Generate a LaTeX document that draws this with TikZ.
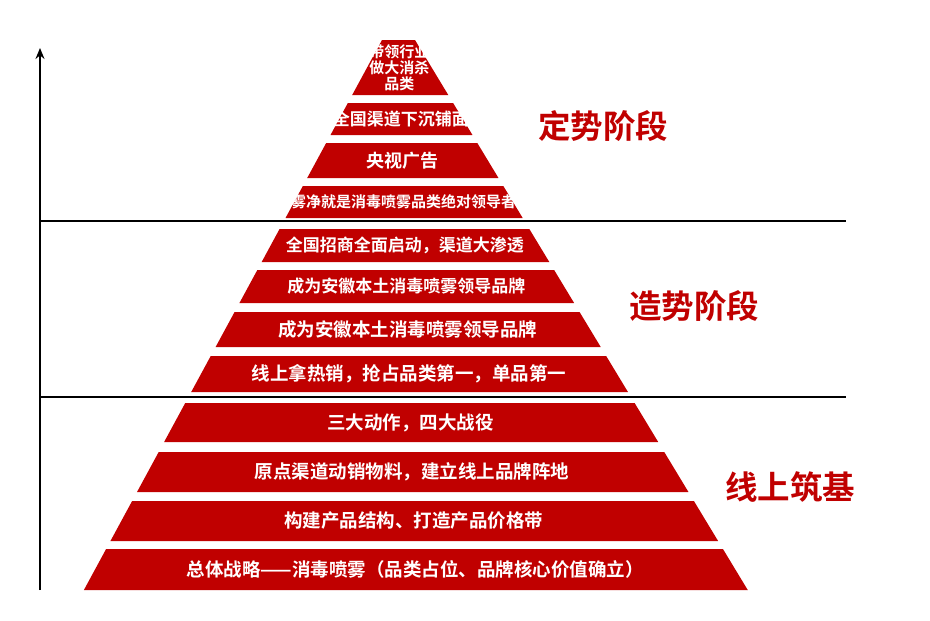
\documentclass[tikz,border=0pt]{standalone}
\usepackage{fontspec}
\newfontfamily\cjk{Noto Sans CJK SC Bold}
\usetikzlibrary{arrows.meta}
\definecolor{pr}{HTML}{C00000}
\begin{document}
\begin{tikzpicture}[x=1pt,y=-1pt,
  lay/.style={text=white,align=center,inner sep=0pt},
  stage/.style={text=pr,font=\cjk\fontsize{32.5}{34}\selectfont}]
\useasboundingbox (0,0) rectangle (930,621);
\foreach \ya/\yb/\t/\fs/\ls [count=\i] in {
 40/95/{带领行业\\做大消杀\\品类}/15/16,
 103/135/{全国渠道下沉铺面}/17/18,
 143/178/{央视广告}/18/19,
 186/218/{雾净就是消毒喷雾品类绝对领导者}/15/16,
 229/262/{全国招商全面启动，渠道大渗透}/17/18,
 270/303/{成为安徽本土消毒喷雾领导品牌}/17/18,
 312/347/{成为安徽本土消毒喷雾领导品牌}/18.5/19,
 356/392/{线上拿热销，抢占品类第一，单品第一}/18.5/19,
 403/442/{三大动作，四大战役}/18.5/19,
 452/492/{原点渠道动销物料，建立线上品牌阵地}/18.5/19,
 501/541/{构建产品结构、打造产品价格带}/18.5/19,
 549/590/{总体战略——消毒喷雾（品类占位、品牌核心价值确立）}/18.5/19}{
  \fill[pr] ({382-0.542*(\ya-40)},\ya) -- ({415+0.605*(\ya-40)},\ya)
     -- ({415+0.605*(\yb-40)},\yb) -- ({382-0.542*(\yb-40)},\yb) -- cycle;
  \node[lay,font=\cjk\fontsize{\fs}{\ls}\selectfont] (l\i) at ({398.5+0.0315*((\ya+\yb)/2-40)},{(\ya+\yb)/2}) {\t};
}
\draw[line width=1.6pt,-{Stealth[length=11pt,width=9pt]}] (40,590) coordinate (a0) -- (40,48) coordinate (a1);
\draw[line width=2pt] (40,221) coordinate (h1) -- (846,221) coordinate (h2);
\draw[line width=2pt] (40,397) coordinate (h3) -- (846,397) coordinate (h4);
\node[stage] (s1) at (603,126) {定势阶段};
\node[stage] (s2) at (694,306) {造势阶段};
\node[stage] (s3) at (790,487) {线上筑基};
\end{tikzpicture}
\end{document}
